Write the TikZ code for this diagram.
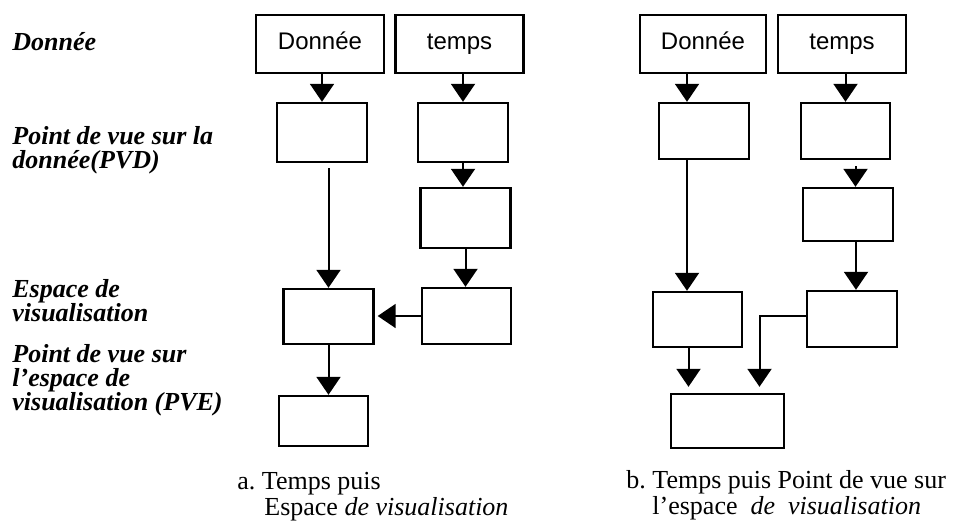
\documentclass[tikz,border=0pt]{standalone}
\usepackage{fontspec}
\setmainfont{Liberation Serif}
\setsansfont{Liberation Sans}
\usetikzlibrary{arrows.meta,positioning,calc}
\tikzset{
  block/.style={draw,line width=1.2pt,inner sep=0pt,minimum width=45pt,
    minimum height=28pt},
  head/.style={block,minimum width=64pt,minimum height=29pt,text height=9pt,
    text depth=3pt,font=\sffamily\fontsize{12}{14}\selectfont},
  rowtitle/.style={anchor=base west,inner sep=0pt,align=left,
    font=\fontsize{13}{12}\selectfont\bfseries\itshape},
  captiontext/.style={anchor=base west,inner sep=0pt,
    font=\fontsize{13}{15}\selectfont},
  arrow/.style={-{Triangle[length=9pt,width=12pt]},line width=1pt}
}

\begin{document}
\begin{tikzpicture}[x=0.5pt,y=-0.5pt]
  \useasboundingbox (0,0) rectangle (957,524);

  \node[rowtitle] (tDon) at (12,51) {Donnée};
  \node[rowtitle] (tPvd) at (12,168) {Point de vue sur la\\donnée(PVD)};
  \node[rowtitle] (tEsp) at (12,321) {Espace de\\visualisation};
  \node[rowtitle] (tPve) at (12,410) {Point de vue sur\\l’espace de\\visualisation (PVE)};

  \node[head] (aDon) at (320,44) {Donnée};
  \node[head] (aTmp) at (459.5,44) {temps};
  \node[block,minimum height=29.5pt] (aPvd) at (322,132.5) {};
  \node[block,minimum height=29.5pt] (aPvt) at (463,132.5) {};
  \node[block,minimum height=30pt] (aPvt2) at (465.5,218) {};
  \node[block,minimum height=27.5pt] (aEsp) at (328.5,316.5) {};
  \node[block,minimum width=44.5pt] (aEst) at (466.5,316) {};
  \node[block,minimum width=44.5pt,minimum height=25pt] (aPve) at (323.5,421) {};

  \draw[arrow] (aDon.south -| aPvd) -- (aPvd);
  \draw[arrow,shorten <=2.5pt] (aPvd.south -| aEsp) -- (aEsp);
  \draw[arrow] (aTmp.south -| aPvt) -- (aPvt);
  \draw[arrow] (aPvt.south) -- (aPvt.south |- aPvt2.north);
  \draw[arrow] (aPvt2.south) -- (aPvt2.south |- aEst.north);
  \draw[arrow,shorten >=1.5pt] (aEst.west) -- (aEst.west -| aEsp.east);
  \draw[arrow] (aEsp) -- (aEsp |- aPve.north);

  \node[captiontext] (capA1) at (237,489) {a.\ Temps puis};
  \node[captiontext] (capA2) at (264,515) {Espace \textit{de visualisation}};

  \node[head,minimum width=63pt] (bDon) at (703,44) {Donnée};
  \node[head] (bTmp) at (842,44) {temps};
  \node[block] (bPvd) at (704,131) {};
  \node[block,minimum width=44.5pt] (bPvt) at (845.5,131) {};
  \node[block,minimum height=26.5pt] (bPvt2) at (848,214.5) {};
  \node[block,minimum width=44.5pt,minimum height=27.5pt] (bEsp) at (697.5,319.5) {};
  \node[block] (bEst) at (852,319) {};
  \node[block,minimum width=56.5pt,minimum height=27pt] (bPve) at (727.5,421) {};

  \draw[arrow] ([xshift=-8pt]bDon.south) -- ([xshift=-8pt]bDon.south |- bPvd.north);
  \draw[arrow] ([xshift=-8.5pt]bPvd.south) -- ([xshift=-8.5pt]bPvd.south |- bEsp.north);
  \draw[arrow,shorten >=3pt] ([xshift=-4.5pt]bEsp.south) -- ([xshift=-4.5pt]bEsp.south |- bPve.north);
  \draw[arrow] (bTmp.south -| bPvt) -- (bPvt);
  \draw[arrow,shorten <=3pt] ([xshift=5pt]bPvt.south) -- ([xshift=5pt]bPvt.south |- bPvt2.north);
  \draw[arrow] ([xshift=4pt]bPvt2.south) -- ([xshift=4pt]bPvt2.south |- bEst.north);
  \draw[arrow,shorten >=3pt] ([yshift=1.5pt]bEst.west) -| ([xshift=16pt]bPve.north);

  \node[captiontext] (capB1) at (626,488) {b.\ Temps puis Point de vue sur};
  \node[captiontext] (capB2) at (652,514) {l’espace \ \textit{de} \ \textit{visualisation}};
\end{tikzpicture}
\end{document}
